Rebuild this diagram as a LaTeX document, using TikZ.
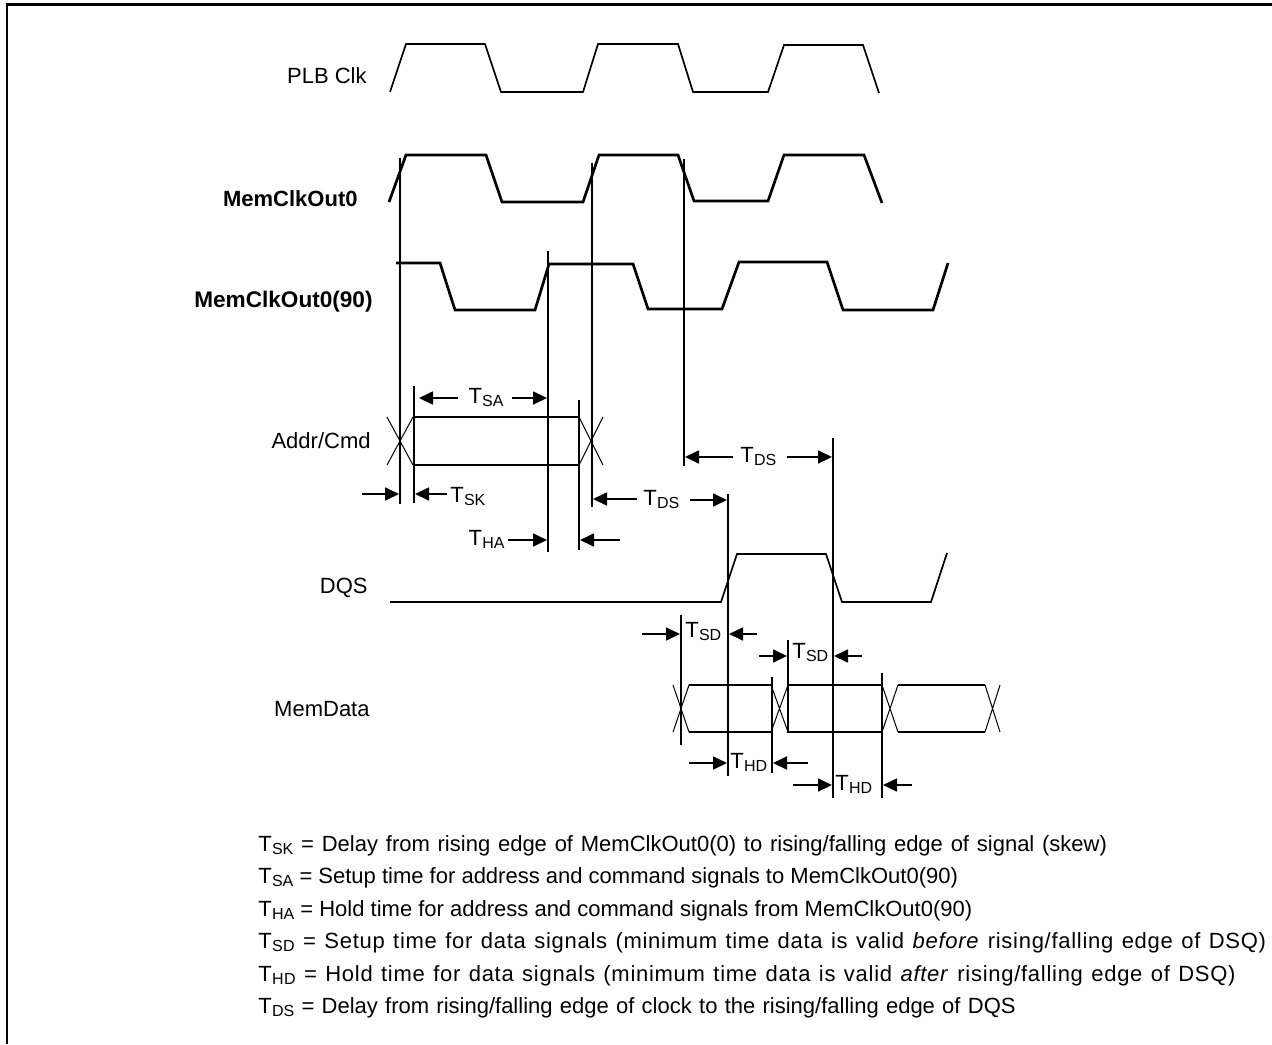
\documentclass[tikz,border=0pt]{standalone}
\usepackage{fontspec}
\setmainfont{Liberation Sans}
\usetikzlibrary{arrows.meta}
\newcommand\tsub[1]{T\kern0.01em\raisebox{-1.8pt}{\fontsize{8}{8}\selectfont #1}}
\begin{document}
\begin{tikzpicture}[x=0.5pt,y=-0.5pt,
  thin wave/.style={line width=0.85pt, line join=miter},
  thick wave/.style={line width=1.35pt, line join=miter},
  refline/.style={line width=0.85pt},
  xline/.style={line width=0.5pt},
  dim/.style={line width=0.85pt, -{Triangle[length=7pt,width=6.5pt]}},
  sig/.style={anchor=base east, inner sep=0pt, font=\fontsize{11}{13}\selectfont},
  tlab/.style={inner sep=0pt, font=\fontsize{11}{13}\selectfont},
  leg/.style={anchor=base west, inner sep=0pt, font=\fontsize{11}{13}\selectfont}]
\useasboundingbox (0,0) rectangle (1272,1044);
\fill[white] (0,0) rectangle (1272,1044);
% frame
\draw[line width=1.3pt] (7,1044) -- (7,4.5) -- (1272,4.5);

% signal labels
\node[sig] (lplb) at (367,83) {PLB Clk};
\node[sig] (lmc0) at (358,206) {\bfseries MemClkOut0};
\node[sig] (lmc90) at (373,307) {\bfseries\fontsize{11.3}{13}\selectfont MemClkOut0(90)};
\node[sig] (laddr) at (371,448) {Addr/Cmd};
\node[sig] (ldqs) at (368,593) {DQS};
\node[sig] (ldata) at (370,716) {MemData};

% PLB Clk
\draw[thin wave] (390,92) -- (406,44) -- (485,44) -- (501,92) -- (583,92) -- (598,44) -- (678,44) -- (693,92) -- (768,92) -- (784,45) -- (863,45) -- (879,93);
% MemClkOut0
\draw[thick wave] (389,202) -- (406,155) -- (486,155) -- (502,202) -- (583,202) -- (599,155) -- (678,155) -- (694,201) -- (768,201) -- (784,155) -- (864,155) -- (882,203);
% MemClkOut0(90)
\draw[thick wave] (396,263) -- (440,263) -- (455,310) -- (535,310) -- (549,264) -- (633,264) -- (648,309) -- (722,309) -- (739,262) -- (827,262) -- (843,310) -- (933,310) -- (948,263);
% DQS
\draw[thin wave] (390,602) -- (721,602) -- (737,554) -- (826,554) -- (842,602) -- (931,602) -- (947,553);

% Addr/Cmd bus
\draw[refline] (413,417) -- (579,417) (413,465) -- (579,465);
\draw[xline] (387,417) -- (413,465) (387,465) -- (413,417);
\draw[xline] (579,417) -- (603,465) (579,465) -- (603,417);

% MemData bus
\draw[refline] (689,685) -- (771,685) (689,732) -- (771,732);
\draw[refline] (788,685) -- (882,685) (788,732) -- (882,732);
\draw[refline] (898,685) -- (985,685) (898,732) -- (985,732);
\draw[xline] (673,685) -- (689,732) (673,732) -- (689,685);
\draw[xline] (771,685) -- (788,732) (771,732) -- (788,685);
\draw[xline] (882,685) -- (898,732) (882,732) -- (898,685);
\draw[xline] (985,685) -- (1000,732) (985,732) -- (1000,685);

% reference lines
\draw[refline] (400,158) -- (400,504);
\draw[refline] (414,386) -- (414,503);
\draw[refline] (548,251) -- (548,552);
\draw[refline] (579,400) -- (579,550);
\draw[refline] (592,163) -- (592,507);
\draw[refline] (684,159) -- (684,466);
\draw[refline] (728,494) -- (728,776);
\draw[refline] (833,438) -- (833,798);
\draw[refline] (681,615) -- (681,745);
\draw[refline] (788,640) -- (788,733);
\draw[refline] (772,677) -- (772,773);
\draw[refline] (882,673) -- (882,798);

% T_SA
\node[tlab, anchor=base] (tsa) at (486,403) {\tsub{SA}};
\draw[dim] (458,398) -- (419,398);
\draw[dim] (512,398) -- (547,398);
% T_SK
\draw[dim] (362,494) -- (399,494);
\draw[dim] (447,494) -- (415,494);
\node[tlab, anchor=base west] (tsk) at (450,502) {\tsub{SK}};
% T_HA
\node[tlab, anchor=base east] (tha) at (505,545) {\tsub{HA}};
\draw[dim] (508,540) -- (547,540);
\draw[dim] (620,540) -- (580,540);
% T_DS lower
\draw[dim] (637,499) -- (593,499);
\node[tlab, anchor=base west] (tds1) at (643,505) {\tsub{DS}};
\draw[dim] (690,500) -- (727,500);
% T_DS upper
\draw[dim] (733,457) -- (685,457);
\node[tlab, anchor=base west] (tds2) at (740,462) {\tsub{DS}};
\draw[dim] (787,457) -- (832,457);
% T_SD first
\draw[dim] (642,634) -- (680,634);
\node[tlab, anchor=base west] (tsd1) at (685,637) {\tsub{SD}};
\draw[dim] (757,634) -- (729,634);
% T_SD second
\draw[dim] (759,656) -- (787,656);
\node[tlab, anchor=base west] (tsd2) at (792,658) {\tsub{SD}};
\draw[dim] (862,656) -- (834,656);
% T_HD first
\draw[dim] (689,763) -- (727,763);
\node[tlab, anchor=base west] (thd1) at (730,768) {\tsub{HD}};
\draw[dim] (808,763) -- (773,763);
% T_HD second
\draw[dim] (793,785) -- (832,785);
\node[tlab, anchor=base west] (thd2) at (835,790) {\tsub{HD}};
\draw[dim] (912,785) -- (883,785);

% legend
\node[leg] (g1) at (258,851) {\spaceskip=3.9pt\relax \tsub{SK} = Delay from rising edge of MemClkOut0(0) to rising/falling edge of signal (skew)};
\node[leg] (g2) at (258,883) {\tsub{SA} = Setup time for address and command signals to MemClkOut0(90)};
\node[leg] (g3) at (258,916) {\tsub{HA} = Hold time for address and command signals from MemClkOut0(90)};
\node[leg] (g4) at (258,948) {\addfontfeature{LetterSpace=3.3}\spaceskip=4.2pt\relax \tsub{SD} = Setup time for data signals (minimum time data is valid \textit{before} rising/falling edge of DSQ)};
\node[leg] (g5) at (258,981) {\addfontfeature{LetterSpace=3.3}\spaceskip=4.2pt\relax \tsub{HD} = Hold time for data signals (minimum time data is valid \textit{after} rising/falling edge of DSQ)};
\node[leg] (g6) at (258,1013) {\spaceskip=3.64pt\relax \tsub{DS} = Delay from rising/falling edge of clock to the rising/falling edge of DQS};
\end{tikzpicture}
\end{document}
